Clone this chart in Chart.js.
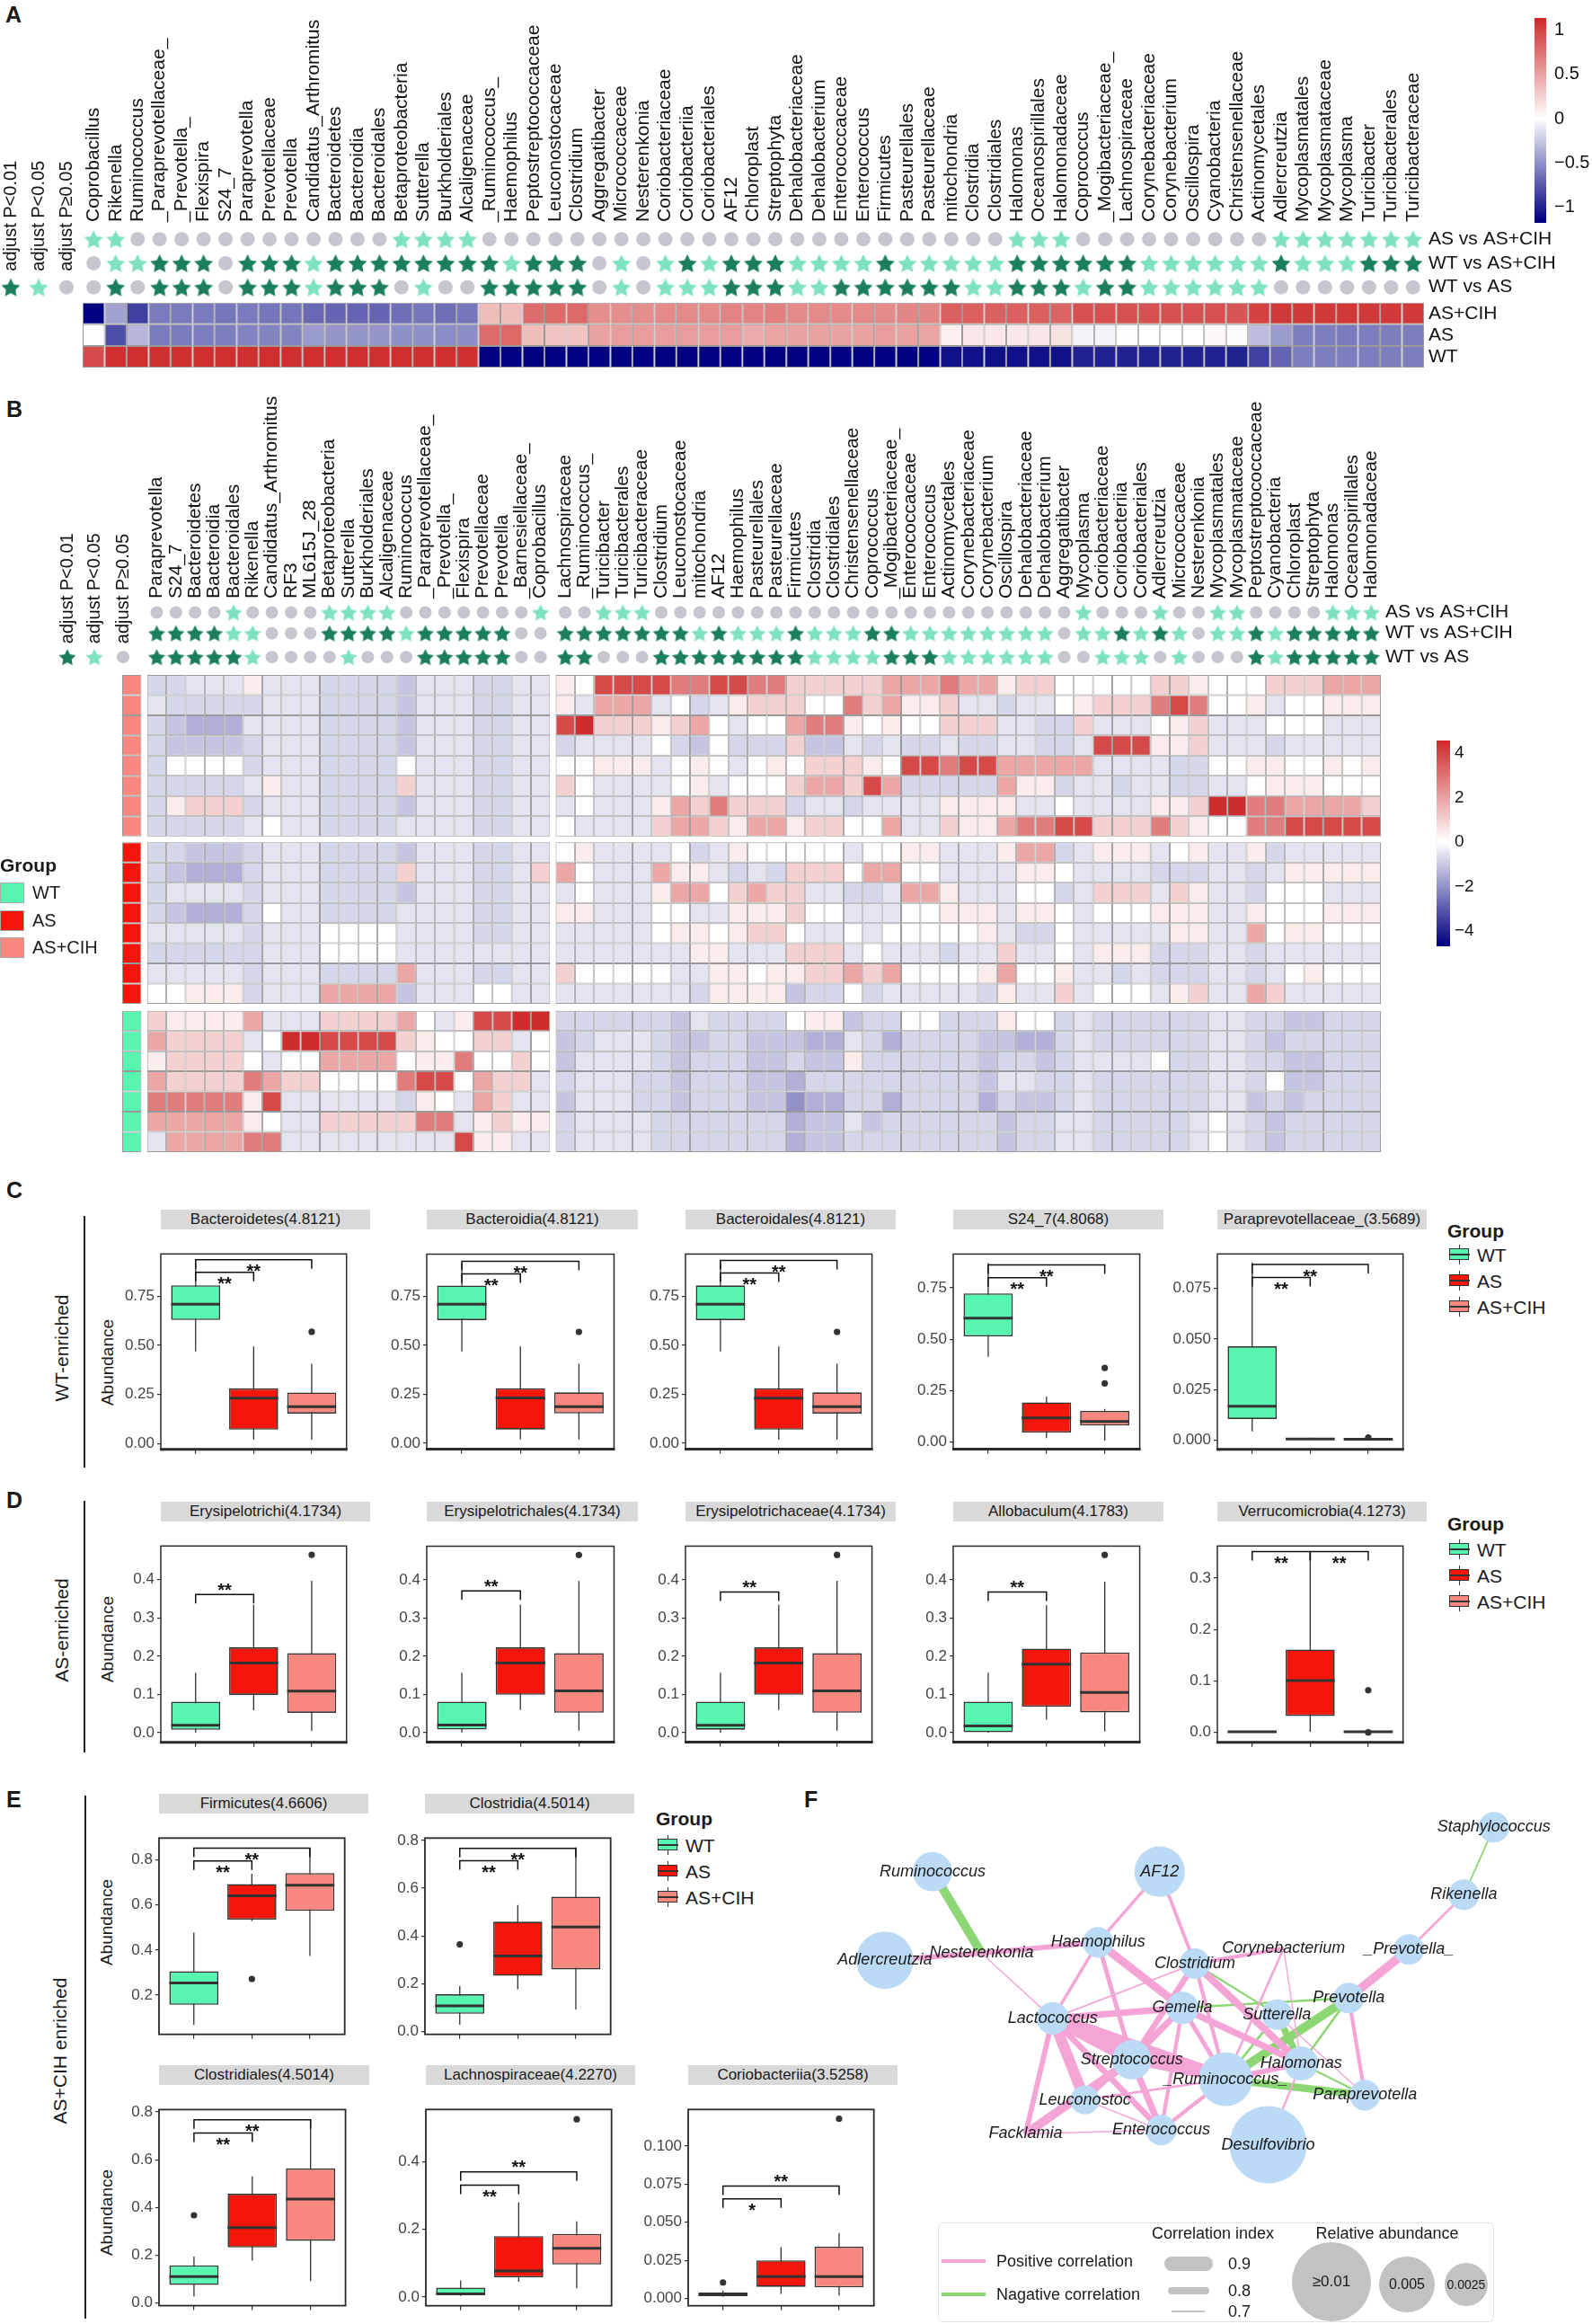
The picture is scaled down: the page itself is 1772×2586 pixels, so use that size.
<!DOCTYPE html>
<html lang="en">
<head>
<meta charset="utf-8">
<title>Differential gut taxa: heatmaps, boxplots and co-occurrence network</title>
<script src="https://cdn.jsdelivr.net/npm/chart.js@4.4.1/dist/chart.umd.min.js"></script>
<style>
  html, body { margin: 0; padding: 0; background: #ffffff; }
  #page { position: relative; width: 1772px; height: 2586px; overflow: hidden; background: #ffffff;
          font-family: 'Liberation Sans', Arial, Helvetica, sans-serif; color: #1a1a1a; }
  #page canvas { position: absolute; }
  .t { position: absolute; white-space: nowrap; line-height: 1; }
  .letter { font-weight: bold; font-size: 25px; }
  .strip { position: absolute; height: 22px; line-height: 22px; background: #d9d9d9; text-align: center;
           font-size: 17px; overflow: hidden; white-space: nowrap; color: #1a1a1a; }
  .rot { position: absolute; white-space: nowrap; line-height: 1; transform: translate(-50%, -50%) rotate(-90deg); }
  .vline { position: absolute; width: 1.5px; background: #222; }
  .key { position: absolute; width: 23px; height: 22px; }
  .key .w { position: absolute; left: 11px; top: 0; width: 1px; height: 22px; background: #333; }
  .key .b { position: absolute; left: 0; top: 4px; width: 20px; height: 11px; border: 1.5px solid #333; }
  .key .m { position: absolute; left: 0; top: 10px; width: 23px; height: 2px; background: #333; }
  .gbox { position: absolute; width: 27px; height: 22px; border: 1px solid #aaa; box-sizing: border-box; }
  .circ { position: absolute; border-radius: 50%; background: #c2c2c2; display: flex; align-items: center;
          justify-content: center; color: #1a1a1a; }
</style>
</head>
<body>
<div id="page"></div>
<script>
// ---------------- panel A: 61 taxa, group-mean z-scores ----------------
const aTaxa = ['Coprobacillus','Rikenella','Ruminococcus','_Paraprevotellaceae_','_Prevotella_','Flexispira','S24_7',
  'Paraprevotella','Prevotellaceae','Prevotella','Candidatus_Arthromitus','Bacteroidetes','Bacteroidia','Bacteroidales',
  'Betaproteobacteria','Sutterella','Burkholderiales','Alcaligenaceae','_Ruminococcus_','Haemophilus',
  'Peptostreptococcaceae','Leuconostocaceae','Clostridium','Aggregatibacter','Micrococcaceae','Nesterenkonia',
  'Coriobacteriaceae','Coriobacteriia','Coriobacteriales','AF12','Chloroplast','Streptophyta','Dehalobacteriaceae',
  'Dehalobacterium','Enterococcaceae','Enterococcus','Firmicutes','Pasteurellales','Pasteurellaceae','mitochondria',
  'Clostridia','Clostridiales','Halomonas','Oceanospirillales','Halomonadaceae','Coprococcus','_Mogibacteriaceae_',
  'Lachnospiraceae','Corynebacteriaceae','Corynebacterium','Oscillospira','Cyanobacteria','Christensenellaceae',
  'Actinomycetales','Adlercreutzia','Mycoplasmatales','Mycoplasmataceae','Mycoplasma','Turicibacter',
  'Turicibacterales','Turicibacteraceae'];
const aHeatCih = [-1.15,-0.42,-0.86,-0.6,-0.6,-0.6,-0.62,-0.6,-0.62,-0.62,-0.68,-0.7,-0.7,-0.7,-0.65,-0.62,-0.65,-0.62,
  0.35,0.35,0.78,0.8,0.8,0.6,0.6,0.6,0.62,0.62,0.62,0.65,0.65,0.68,0.62,0.62,0.62,0.62,0.62,0.64,0.64,
  0.85,0.85,0.85,0.85,0.85,0.82,0.93,0.93,0.93,0.93,0.93,0.93,0.93,0.9,1.0,1.05,1.05,1.05,1.05,1.05,1.05,1.05];
const aHeatAs = [0,-0.8,-0.33,-0.6,-0.6,-0.58,-0.58,-0.56,-0.56,-0.56,-0.45,-0.48,-0.48,-0.48,-0.5,-0.5,-0.52,-0.52,
  0.78,0.8,0.35,0.32,0.32,0.5,0.52,0.52,0.52,0.52,0.52,0.52,0.45,0.48,0.5,0.5,0.5,0.5,0.52,0.5,0.48,
  0.08,0.12,0.12,0.12,0.14,0.16,-0.06,-0.06,0.01,0,0,0,0.03,0.02,-0.3,-0.45,-0.58,-0.58,-0.6,-0.58,-0.58,-0.58];
const aHeatWt = [0.95,1.1,1.1,1.1,1.1,1.1,1.1,1.1,1.1,1.1,1.1,1.1,1.1,1.1,1.1,1.1,1.1,1.1,
  -1.15,-1.15,-1.15,-1.15,-1.15,-1.15,-1.15,-1.15,-1.15,-1.15,-1.15,-1.15,-1.15,-1.15,-1.15,-1.15,-1.15,-1.15,-1.15,-1.15,-1.15,
  -1.08,-1.08,-1.08,-1.08,-1.08,-1.08,-1.0,-1.0,-1.0,-1.0,-1.0,-1.0,-1.0,-1.0,-0.86,-0.7,-0.58,-0.58,-0.58,-0.58,-0.58,-0.58];
// significance codes: 2 = adjust P<0.01, 1 = adjust P<0.05, 0 = adjust P>=0.05
const aSigAsCih = '11 000000 000000 1111 000000 000000 000000 000000 111 000000000 1111111';
const aSigWtCih = '0112220222 1222222221 2220101212 2211112111 1122222211 11112111222';
const aSigWtAs  = '0202220222 1222010022 2220101112 2211222222 1122212211 11110000000';
const aRowNames = ['AS vs AS+CIH', 'WT vs AS+CIH', 'WT vs AS', 'AS+CIH', 'AS', 'WT'];
const aBarTicks = [-1, -0.5, 0, 0.5, 1];

// ---------------- panel B: 64 taxa x 23 samples ----------------
const bTaxaLeft = ['Paraprevotella','S24_7','Bacteroidetes','Bacteroidia','Bacteroidales','Rikenella',
  'Candidatus_Arthromitus','RF3','ML615J_28','Betaproteobacteria','Sutterella','Burkholderiales','Alcaligenaceae',
  'Ruminococcus','_Paraprevotellaceae_','_Prevotella_','Flexispira','Prevotellaceae','Prevotella',
  '_Barnesiellaceae_','Coprobacillus'];
const bTaxaRight = ['Lachnospiraceae','_Ruminococcus_','Turicibacter','Turicibacterales','Turicibacteraceae',
  'Clostridium','Leuconostocaceae','mitochondria','AF12','Haemophilus','Pasteurellales','Pasteurellaceae','Firmicutes',
  'Clostridia','Clostridiales','Christensenellaceae','Coprococcus','_Mogibacteriaceae_','Enterococcaceae',
  'Enterococcus','Actinomycetales','Corynebacteriaceae','Corynebacterium','Oscillospira','Dehalobacteriaceae',
  'Dehalobacterium','Aggregatibacter','Mycoplasma','Coriobacteriaceae','Coriobacteriia','Coriobacteriales',
  'Adlercreutzia','Micrococcaceae','Nesterenkonia','Mycoplasmatales','Mycoplasmataceae','Peptostreptococcaceae',
  'Cyanobacteria','Chloroplast','Streptophyta','Halomonas','Oceanospirillales','Halomonadaceae'];
const bSigAsCih = '0000 1 0000 1111 0000000 1 | 00 111 00000 00000 00000 00000 00 1 000 1 00 11 0000 111';
const bSigWtCih = '2222 11 000 2222 1 22222 00 | 2222222 1 2 111 2 111 22 11111111 0 11 2 1 2 1 0 11 2 1 22222';
const bSigWtAs  = '22222 1 0000 1 000 22222 00 | 22 000 22222222 1111 222 111111 00 111 0 1 000 2 1 22222';
const heatLevels = { O: -2.0, N: -1.45, M: -1.05, L: -0.75, K: -0.5, '0': 0, a: 0.4, b: 1.0, c: 1.9, d: 2.8, e: 3.9, f: 4.5 };
const bSampleGroups = ['AS+CIH','AS+CIH','AS+CIH','AS+CIH','AS+CIH','AS+CIH','AS+CIH','AS+CIH',
  'AS','AS','AS','AS','AS','AS','AS','AS','WT','WT','WT','WT','WT','WT','WT'];
const bHeatLeft = [
  'LLKKKaKKKLLLLMKKKLLKK','KLLLLLKKKLLLLMKKKLLKK','LMNNNKKKKLLLLMKKKLLKK','LMMMMLKKKLLLLMKKKLLKK',
  'L0000LKKKLLLL0KKKLLKK','LLLLLKaKKLLLLbKKKLLKK','LabbbLKKKLLLLMKKKLLKK','LLLLLK0KKLLLLKKKKLLKK',
  'LLMMMLKKKLLLLMKKKLLKK','LMNNNLKKKLLLLbKKKLLKb','LKKKKLKKKLLLLMKKKLLKK','LMNNNL0KKLLLLKKKKLLKK',
  'KKKKKLKKK0000KKKKLLKK','LLLLLLKKK0000KKKKKKKK','KKKKKLKKKLLLLcKKKLLKK','00aaaLKKKccccMKKK00KK',
  'baaaacKKKbbbbc0Kaeeff','cbbbbK0ffeeeeba00bbK0','abbbb0K00cccc0aad00b0','cbbbbdcbb0000dee0cbbK',
  'dddddaeKKKKKKLa0KcbKK','ccccca0KKbbbbbddKabaa','KccccddKKKKKKKKKeaaKK'];
const bHeatRight = [
  'a0eeeeddeeddbbbbbcccdcca bb00000bba000bbbccc',
  'aKcccK0LKabbb00dbcaabKKL KK0abbbded00aK00aaa',
  'efbbbabc0K00cdda0a00bbbK KLLbKKK0abKKK000KKK',
  'LKKKK0LM0LLLbMMKLKLLKLLK KLLKeeeaabKKKLKKKKK',
  '00aaaK0a0K0a0bbba0eedeec ccccKKKKLL00aa00a0a',
  'b0KKKK0aK000bccbecLLLLLc aaLKKLKKLLKK0aaa000',
  'K0KKKacbdbbbLKKLKKKKaaaa KK0KKKKaabffddccccb',
  '0KKKKbccbaccabb00cKKbaac ddeebbbdba00ddeeeee',
  '0aKKKK0LKa00000K00aaKKKa ccLKaaaK0aKKaLKKKKK',
  'c0KKKcaaKLKLbbb0cc00KKKK aa0KKKKLLLKKLKaaaaa',
  'K0KKKacc0bcbbKKLLKccaKKK 00LKbbbKbaKKL000KKK',
  'aaKKK00KKaaab00KKK00aaaK aa0K000aaaKKa000aaa',
  'KKKKK0aa0abb0KK0K00000aK LL0KKKKKaaKKc0aa000',
  'KKKKKKKaaKKKbbbK0KKKLKKb KK0KaaaLLLKKLKKKKKK',
  'b00000KKaa0aabbcbc0000ac 00aKKLKLLLKKLK0a000',
  'KKKKKKKLaaaaMLL0LKKKKKLa KKbK000KabKKcbKKKKK',
  'LLLLLLMKLLLL0aaMLL00LLLa 00LKLLLLLLKKLLMMLLL',
  'MLKKKLMMLLMMMNNKLNLLLLMM NNLKLLLLLLKKLMLLLLL',
  'MKKKKLMLLLMMLMMaLLLLLLML LMLKKKK0LLKKLLMMLLL',
  'LKKKLLMLLLMMNLLLLLLLLLMK KLLKLLLLLLKKL0MMLLL',
  'MKKKLLMLLLMMONNLLNLLLLNL MMLKLLLLLLKKMLMLLLL',
  'LKKKKLLLLLLLNMMKMLLLLLLM LLKKLLLLLK0KLMLLLLL',
  'LKKKKLLLLLLLNMMLLLLLLLLM LLKKLLLLLK0KLMLLLLL'];
const bBarTicks = [-4, -2, 0, 2, 4];
const sigLegendLabels = ['adjust P<0.01', 'adjust P<0.05', 'adjust P\u22650.05'];
const sigRowNames = ['AS vs AS+CIH', 'WT vs AS+CIH', 'WT vs AS'];

// ---------------- panels C, D, E: [lower whisker, Q1, median, Q3, upper whisker] per WT, AS, AS+CIH ----------------
const boxGroups = ['WT', 'AS', 'AS+CIH'];
const bacteroidetesBox = [[0.469,0.629,0.710,0.806,0.919],[0.019,0.070,0.231,0.281,0.494],[0.019,0.152,0.187,0.260,0.406]];
const bacteroidetesOut = [[], [], [0.569]];
const bacteroidetesSig = [[0, 2, 0.937, '**', 'below'], [0, 1, 0.872, '**', 'below']];
const bacteroidiaBox = [[0.469,0.629,0.710,0.806,0.919],[0.019,0.070,0.231,0.281,0.494],[0.019,0.152,0.187,0.260,0.406]];
const bacteroidiaOut = [[], [], [0.569]];
const bacteroidiaSig = [[0, 2, 0.929, '**', 'below'], [0, 1, 0.865, '**', 'below']];
const bacteroidalesBox = [[0.469,0.629,0.710,0.806,0.919],[0.019,0.070,0.231,0.281,0.494],[0.019,0.152,0.187,0.260,0.406]];
const bacteroidalesOut = [[], [], [0.569]];
const bacteroidalesSig = [[0, 2, 0.934, '**', 'below'], [0, 1, 0.869, '**', 'below']];
const s247Box = [[0.414,0.514,0.603,0.723,0.871],[0.018,0.045,0.117,0.192,0.221],[0.006,0.079,0.099,0.151,0.160]];
const s247Out = [[], [], [0.360, 0.285]];
const s247Sig = [[0, 2, 0.862, '**', 'below'], [0, 1, 0.800, '**', 'below']];
const paraprevBox = [[0.0043,0.0105,0.0168,0.0464,0.0877],[0.0002,0.0004,0.0006,0.0009,0.0012],[0.0001,0.0003,0.0005,0.0007,0.0009]];
const paraprevOut = [[], [], [0.0013]];
const paraprevSig = [[0, 2, 0.0868, '**', 'below'], [0, 1, 0.0804, '**', 'below']];

const erysipelotrichiBox = [[0.000,0.0078,0.0195,0.081,0.157],[0.059,0.099,0.182,0.223,0.335],[0.005,0.052,0.109,0.208,0.397]];
const erysipelotrichiOut = [[], [], [0.465]];
const erysipelotrichiSig = [[0, 1, 0.361, '**', 'above']];
const erysipelotrichalesBox = [[0.000,0.0078,0.0195,0.081,0.157],[0.059,0.099,0.182,0.223,0.335],[0.005,0.052,0.109,0.208,0.397]];
const erysipelotrichalesOut = [[], [], [0.465]];
const erysipelotrichalesSig = [[0, 1, 0.371, '**', 'above']];
const erysipelotrichaceaeBox = [[0.000,0.0078,0.0195,0.081,0.157],[0.059,0.099,0.182,0.223,0.335],[0.005,0.052,0.109,0.208,0.397]];
const erysipelotrichaceaeOut = [[], [], [0.465]];
const erysipelotrichaceaeSig = [[0, 1, 0.368, '**', 'above']];
const allobaculumBox = [[0.000,0.001,0.0176,0.081,0.157],[0.034,0.068,0.179,0.220,0.333],[0.003,0.053,0.105,0.210,0.395]];
const allobaculumOut = [[], [], [0.465]];
const allobaculumSig = [[0, 1, 0.368, '**', 'above']];
const verrucoBox = [[0.0005,0.001,0.0015,0.002,0.0025],[0.0015,0.032,0.101,0.161,0.343],[0.0005,0.001,0.0015,0.0022,0.003]];
const verrucoOut = [[], [], [0.082, 0.0003]];
const verrucoSig = [[0, 1, 0.351, '**', 'below'], [1, 2, 0.351, '**', 'below']];

const firmicutesBox = [[0.068,0.157,0.254,0.306,0.477],[0.529,0.535,0.641,0.693,0.739],[0.374,0.574,0.688,0.742,0.854]];
const firmicutesOut = [[], [0.272], []];
const firmicutesSig = [[0, 2, 0.852, '**', 'below'], [0, 1, 0.796, '**', 'below']];
const clostridiaBox = [[0.028,0.074,0.107,0.156,0.190],[0.177,0.233,0.316,0.460,0.530],[0.092,0.260,0.438,0.565,0.772]];
const clostridiaOut = [[0.365], [], []];
const clostridiaSig = [[0, 2, 0.767, '**', 'below'], [0, 1, 0.715, '**', 'below']];
const clostridialesBox = [[0.027,0.075,0.110,0.157,0.194],[0.177,0.232,0.315,0.457,0.530],[0.091,0.260,0.435,0.563,0.770]];
const clostridialesOut = [[0.367], [], []];
const clostridialesSig = [[0, 2, 0.767, '**', 'below'], [0, 1, 0.712, '**', 'below']];
const lachnoBox = [[0.003,0.007,0.009,0.028,0.049],[0.045,0.058,0.077,0.180,0.280],[0.026,0.096,0.144,0.187,0.224]];
const lachnoOut = [[], [], [0.526]];
const lachnoSig = [[0, 2, 0.370, '**', 'above'], [0, 1, 0.331, '**', 'below']];
const corioBox = [[0.001,0.0015,0.0025,0.0038,0.005],[0.003,0.0076,0.0143,0.025,0.0336],[0.002,0.0072,0.0143,0.034,0.043]];
const corioOut = [[0.0105], [], [0.118]];
const corioSig = [[0, 2, 0.0738, '**', 'above'], [0, 1, 0.0653, '*', 'below']];

const ticksQuarter = [0, 0.25, 0.5, 0.75];
const ticksSmall = [0, 0.025, 0.05, 0.075];
const ticksTenth4 = [0, 0.1, 0.2, 0.3, 0.4];
const ticksTenth3 = [0, 0.1, 0.2, 0.3];
const ticksFirm = [0.2, 0.4, 0.6, 0.8];
const ticksFifth = [0, 0.2, 0.4, 0.6, 0.8];
const ticksLachno = [0, 0.2, 0.4];
const ticksCorio = [0, 0.025, 0.05, 0.075, 0.1];

// ---------------- panel F: co-occurrence network (layout coordinates 0-100) ----------------
const netNodes = ['Staphylococcus','Rikenella','_Prevotella_','Prevotella','Ruminococcus','AF12','Adlercreutzia',
  'Nesterenkonia','Haemophilus','Clostridium','Corynebacterium','Gemella','Sutterella','Lactococcus','Streptococcus',
  'Halomonas','_Ruminococcus_','Paraprevotella','Leuconostoc','Enterococcus','Facklamia','Desulfovibrio'];
const netX = [91.9, 87.8, 80.3, 72.1, 15.3, 46.3, 8.8, 22.0, 37.9, 51.1, 63.2, 49.4, 62.3, 31.7, 42.5, 65.6, 55.3, 74.3, 36.1, 46.5, 28.0, 61.1];
const netY = [2.9, 17.2, 28.8, 39.1, 12.3, 12.3, 31.1, 29.6, 27.3, 31.8, 28.6, 41.2, 42.6, 43.4, 52.2, 53.0, 56.3, 59.7, 60.7, 67.1, 67.9, 70.2];
const netAbund = [0.00063, 0.00063, 0.00063, 0.00063, 0.0015, 0.0031, 0.0044, 0, 0.00063, 0.00063, 0, 0.00077, 0.00063,
  0.00077, 0.0015, 0.00093, 0.0037, 0.00063, 0.0005, 0.00063, 0, 0.0095];
const netPosEdges = [
  ['Adlercreutzia','Nesterenkonia',0.76], ['Nesterenkonia','Haemophilus',0.76], ['Nesterenkonia','Lactococcus',0.705],
  ['Haemophilus','AF12',0.73], ['AF12','Clostridium',0.735], ['Haemophilus','Lactococcus',0.73],
  ['Haemophilus','Gemella',0.80], ['Gemella','Halomonas',0.78], ['Haemophilus','Streptococcus',0.75],
  ['Clostridium','Lactococcus',0.71], ['Clostridium','Corynebacterium',0.74], ['Clostridium','Streptococcus',0.77],
  ['Clostridium','Halomonas',0.79], ['Clostridium','_Ruminococcus_',0.74], ['Corynebacterium','_Ruminococcus_',0.72],
  ['Corynebacterium','Halomonas',0.705], ['Lactococcus','Gemella',0.78], ['Lactococcus','_Ruminococcus_',0.88],
  ['Lactococcus','Streptococcus',0.85], ['Lactococcus','Leuconostoc',0.84], ['Lactococcus','Facklamia',0.76],
  ['Lactococcus','Enterococcus',0.77], ['Gemella','Streptococcus',0.77], ['Gemella','Leuconostoc',0.76],
  ['Gemella','Enterococcus',0.74], ['Gemella','_Ruminococcus_',0.75], ['Streptococcus','_Ruminococcus_',0.80],
  ['Streptococcus','Enterococcus',0.78], ['Streptococcus','Facklamia',0.81], ['Leuconostoc','_Ruminococcus_',0.72],
  ['Leuconostoc','Enterococcus',0.705], ['Facklamia','Enterococcus',0.705], ['Enterococcus','_Ruminococcus_',0.74],
  ['_Ruminococcus_','Halomonas',0.76], ['Halomonas','Desulfovibrio',0.715], ['Prevotella','Paraprevotella',0.74],
  ['Prevotella','_Prevotella_',0.81], ['_Prevotella_','Rikenella',0.72], ['Sutterella','Paraprevotella',0.705]];
const netNegEdges = [
  ['Ruminococcus','Nesterenkonia',0.81], ['Staphylococcus','Rikenella',0.71], ['Clostridium','Sutterella',0.715],
  ['Gemella','Prevotella',0.72], ['Sutterella','Halomonas',0.78], ['Sutterella','_Ruminococcus_',0.72],
  ['Prevotella','_Ruminococcus_',0.81], ['Prevotella','Halomonas',0.72], ['_Ruminococcus_','Paraprevotella',0.79],
  ['Halomonas','Paraprevotella',0.715]];

// ================= drawing =================
const FONT = "'Liberation Sans', Arial, Helvetica, sans-serif";
Chart.defaults.font.family = FONT;
Chart.defaults.color = '#1a1a1a';
Chart.defaults.animation = false;
Chart.defaults.responsive = false;
Chart.defaults.maintainAspectRatio = false;
Chart.defaults.devicePixelRatio = 1;
Chart.defaults.events = [];
Chart.defaults.plugins.legend.display = false;
Chart.defaults.plugins.tooltip.enabled = false;

const GROUP_COLORS = { 'WT': '#57F5B0', 'AS': '#F5160B', 'AS+CIH': '#F8877F' };
const SIG_GREY = '#c6c6ce';
const page = document.getElementById('page');

function canvasAt(x, y, w, h) {
  const c = document.createElement('canvas');
  c.width = w; c.height = h;
  c.style.left = x + 'px'; c.style.top = y + 'px';
  c.style.width = w + 'px'; c.style.height = h + 'px';
  page.appendChild(c);
  return c;
}
function put(cls, text, x, y, css) {
  const d = document.createElement('div');
  d.className = cls;
  d.textContent = text;
  d.style.left = x + 'px';
  d.style.top = y + 'px';
  if (css) Object.assign(d.style, css);
  page.appendChild(d);
  return d;
}
function box(x, y, w, h, css) {
  const d = document.createElement('div');
  Object.assign(d.style, { position: 'absolute', left: x + 'px', top: y + 'px', width: w + 'px', height: h + 'px' }, css || {});
  page.appendChild(d);
  return d;
}

const NAVY = [0, 0, 128], WHITE = [255, 255, 255], FIREBRICK = [205, 38, 38];
function heatColor(v, lim) {
  const t = Math.max(-1, Math.min(1, v / lim));
  const end = t < 0 ? NAVY : FIREBRICK, s = Math.abs(t);
  const c = WHITE.map((w, i) => Math.round(w + (end[i] - w) * s));
  return `rgb(${c[0]},${c[1]},${c[2]})`;
}
const digitsOnly = s => s.replace(/[^0-9]/g, '').split('');
const codesOnly = s => s.replace(/\s+/g, '').split('');

function starImage(R, color) {
  const s = Math.ceil(2 * R + 2);
  const c = document.createElement('canvas');
  c.width = s; c.height = s;
  const g = c.getContext('2d');
  g.fillStyle = color;
  g.beginPath();
  for (let k = 0; k < 10; k++) {
    const rr = k % 2 === 0 ? R : R * 0.5;
    const a = -Math.PI / 2 + k * Math.PI / 5;
    const px = s / 2 + rr * Math.cos(a), py = s / 2 + 0.1 * R + rr * Math.sin(a);
    if (k === 0) g.moveTo(px, py); else g.lineTo(px, py);
  }
  g.closePath();
  g.fill();
  return c;
}
const symA = { dark: starImage(11, '#1b7f5c'), light: starImage(11, '#7fe2bf'), starR: 11, dotR: 8 };
const symB = { dark: starImage(10, '#1b7f5c'), light: starImage(10, '#7fe2bf'), starR: 10, dotR: 7 };

function sigDataset(codes, xs, y, sym) {
  const c = digitsOnly(codes);
  return {
    type: 'line', showLine: false, clip: false, order: 0,
    data: xs.map(x => ({ x, y })),
    pointStyle: c.map(k => k === '2' ? sym.dark : k === '1' ? sym.light : 'circle'),
    pointRadius: c.map(k => k === '0' ? sym.dotR : sym.starR),
    pointBackgroundColor: SIG_GREY, pointBorderWidth: 0, pointBorderColor: 'rgba(0,0,0,0)'
  };
}
function heatDataset(cells, thickness) {
  return {
    type: 'bar', order: 1, grouped: false, clip: false,
    data: cells.map(c => ({ x: c.x, y: [c.y0, c.y1] })),
    backgroundColor: cells.map(c => c.color),
    borderColor: '#9a9a9a', borderWidth: 1, borderSkipped: false, inflateAmount: 0,
    barThickness: thickness
  };
}
function colLabelPlugin(labels, xs, size, gap) {
  return { id: 'colLabels', afterDraw(chart) {
    const { ctx, chartArea } = chart, sx = chart.scales.x;
    ctx.save();
    ctx.font = `${size}px ${FONT}`;
    ctx.fillStyle = '#111';
    ctx.textAlign = 'left';
    ctx.textBaseline = 'middle';
    labels.forEach((lab, i) => {
      ctx.save();
      ctx.translate(sx.getPixelForValue(xs[i]), chartArea.top - gap);
      ctx.rotate(-Math.PI / 2);
      ctx.fillText(lab, 0, 0);
      ctx.restore();
    });
    ctx.restore();
  }};
}
function sigLegendPlugin(sym, xs, rowY, textGap) {
  return { id: 'sigLegend', afterDraw(chart) {
    const ctx = chart.ctx, py = chart.scales.y.getPixelForValue(rowY);
    ctx.save();
    [sym.dark, sym.light, null].forEach((img, i) => {
      if (img) ctx.drawImage(img, xs[i] - img.width / 2, py - img.height / 2);
      else { ctx.fillStyle = SIG_GREY; ctx.beginPath(); ctx.arc(xs[i], py, sym.dotR, 0, Math.PI * 2); ctx.fill(); }
      ctx.save();
      ctx.translate(xs[i], py - textGap);
      ctx.rotate(-Math.PI / 2);
      ctx.font = `20px ${FONT}`;
      ctx.fillStyle = '#111';
      ctx.textAlign = 'left';
      ctx.textBaseline = 'middle';
      ctx.fillText(sigLegendLabels[i], 0, 0);
      ctx.restore();
    });
    ctx.restore();
  }};
}
function heatmapChart(spec) {
  const cv = canvasAt(spec.left, spec.top, spec.width, spec.height);
  const areaW = spec.width - spec.pad.left - spec.pad.right - spec.axisW;
  const cellPx = areaW / (spec.xMax - spec.xMin);
  return new Chart(cv, {
    type: 'bar',
    data: { datasets: [...spec.sig, heatDataset(spec.cells, cellPx)] },
    options: {
      layout: { padding: spec.pad },
      scales: {
        x: { type: 'linear', display: false, min: spec.xMin, max: spec.xMax, offset: false, grid: { offset: false } },
        y: { type: 'linear', position: 'right', reverse: true, min: 0, max: spec.yMax,
             afterBuildTicks: s => { s.ticks = spec.rowTicks.map(v => ({ value: v })); },
             afterFit: s => { s.width = spec.axisW; s.paddingTop = 0; s.paddingBottom = 0; },
             ticks: { autoSkip: false, padding: 5, font: { size: 21 }, color: '#111', callback: (v, i) => spec.rowNames[i] },
             grid: { display: false, drawTicks: false }, border: { display: false } }
      }
    },
    plugins: [colLabelPlugin(spec.labels, spec.xs, 21, spec.labelGap), sigLegendPlugin(spec.sym, spec.legendX, spec.sigY[2], spec.legendGap)]
  });
}
function colorbarChart(spec) {
  const cv = canvasAt(spec.left, spec.top, spec.width, spec.height);
  return new Chart(cv, {
    type: 'bar',
    data: { labels: [''], datasets: [{
      data: [[spec.min, spec.max]], borderWidth: 0, barPercentage: 1, categoryPercentage: 1, inflateAmount: 0,
      backgroundColor: ctx => {
        const ys = ctx.chart.scales.y;
        if (!ys || !ctx.chart.chartArea) return '#ffffff';
        const g = ctx.chart.ctx.createLinearGradient(0, ys.getPixelForValue(spec.lim), 0, ys.getPixelForValue(-spec.lim));
        g.addColorStop(0, heatColor(spec.lim, spec.lim));
        g.addColorStop(0.5, '#ffffff');
        g.addColorStop(1, heatColor(-spec.lim, spec.lim));
        return g;
      }
    }] },
    options: {
      layout: { padding: spec.pad },
      scales: {
        x: { display: false },
        y: { position: 'right', min: spec.min, max: spec.max,
             afterBuildTicks: s => { s.ticks = spec.ticks.map(v => ({ value: v })); },
             afterFit: s => { s.width = spec.axisW; s.paddingTop = 0; s.paddingBottom = 0; },
             ticks: { autoSkip: false, padding: spec.tickPad, font: { size: spec.font }, color: '#111',
                      callback: v => (v < 0 ? '\u2212' : '') + Math.abs(v) },
             grid: { display: false, drawTicks: false }, border: { display: false } }
      }
    }
  });
}

// ---------- panel A ----------
put('t letter', 'A', 6, 4);
const A_LIM = 1.15, aSigY = [0.59, 1.70, 2.81], aHeatTop = 3.52;
const aXs = aTaxa.map((_, i) => i);
const aCells = [];
[aHeatCih, aHeatAs, aHeatWt].forEach((row, r) => row.forEach((v, i) =>
  aCells.push({ x: i, y0: aHeatTop + r, y1: aHeatTop + r + 1, color: heatColor(v, A_LIM) })));
heatmapChart({
  left: 0, top: 0, width: 1772, height: 420, pad: { left: 92, right: 0, top: 252, bottom: 3 }, axisW: 187,
  xMin: -0.5, xMax: 60.5, yMax: 6.52, xs: aXs, labels: aTaxa, labelGap: 5,
  sig: [sigDataset(aSigAsCih, aXs, aSigY[0], symA), sigDataset(aSigWtCih, aXs, aSigY[1], symA), sigDataset(aSigWtAs, aXs, aSigY[2], symA)],
  cells: aCells, rowTicks: [...aSigY, aHeatTop + 0.5, aHeatTop + 1.5, aHeatTop + 2.5], rowNames: aRowNames,
  sym: symA, sigY: aSigY, legendX: [12, 43, 74], legendGap: 18
});
colorbarChart({ left: 1690, top: 0, width: 82, height: 252, pad: { left: 18, right: 0, top: 20, bottom: 4 }, axisW: 51,
  min: -1.175, max: 1.135, lim: A_LIM, ticks: aBarTicks, tickPad: 9, font: 20 });

// ---------- panel B ----------
put('t letter', 'B', 7, 443);
const B_LIM = 4.65, bSigY = [0.6, 1.63, 2.81], bGroupStart = { 'AS+CIH': 3.69, 'AS': 11.98, 'WT': 20.32 };
const bXs = [...bTaxaLeft.map((_, i) => 1.3 + i), ...bTaxaRight.map((_, j) => 22.59 + j)];
const bCells = [];
bSampleGroups.forEach((g, r) => {
  const y0 = bGroupStart[g] + (r - bSampleGroups.indexOf(g));
  bCells.push({ x: 0, y0, y1: y0 + 1, color: GROUP_COLORS[g] });
  const codes = [...codesOnly(bHeatLeft[r]), ...codesOnly(bHeatRight[r])];
  bXs.forEach((x, i) => bCells.push({ x, y0, y1: y0 + 1, color: heatColor(heatLevels[codes[i]] || 0, B_LIM) }));
});
heatmapChart({
  left: 0, top: 420, width: 1772, height: 872, pad: { left: 136, right: 0, top: 248, bottom: 3.8 }, axisW: 235,
  xMin: -0.5, xMax: 65.09, yMax: 27.32, xs: bXs, labels: [...bTaxaLeft, ...bTaxaRight], labelGap: 2,
  sig: [sigDataset(bSigAsCih, bXs, bSigY[0], symB), sigDataset(bSigWtCih, bXs, bSigY[1], symB), sigDataset(bSigWtAs, bXs, bSigY[2], symB)],
  cells: bCells, rowTicks: bSigY, rowNames: sigRowNames,
  sym: symB, sigY: bSigY, legendX: [75, 105, 137], legendGap: 15
});
colorbarChart({ left: 1580, top: 810, width: 80, height: 260, pad: { left: 19, right: 0, top: 14, bottom: 17 }, axisW: 46,
  min: -4.69, max: 4.57, lim: B_LIM, ticks: bBarTicks, tickPad: 5, font: 19 });
put('t', 'Group', 0, 952, { fontWeight: 'bold', fontSize: '21px' });
boxGroups.forEach((g, i) => {
  const y = [982, 1013, 1043][i];
  box(0, y, 27, 23, { background: GROUP_COLORS[g], border: '1px solid #aaa', boxSizing: 'border-box' });
  put('t', g, 36, y + 1, { fontSize: '20px' });
});

// ---------- boxplot panels ----------
function bracketPlugin(items) {
  return { id: 'brackets', afterDatasetsDraw(chart) {
    const { ctx, scales: { x, y } } = chart;
    ctx.save();
    ctx.strokeStyle = '#111'; ctx.fillStyle = '#111'; ctx.lineWidth = 1.5;
    ctx.font = `bold 20px ${FONT}`; ctx.textAlign = 'center'; ctx.textBaseline = 'alphabetic';
    items.forEach(([a, b, v, label, side]) => {
      const x1 = x.getPixelForValue(a), x2 = x.getPixelForValue(b), py = y.getPixelForValue(v);
      ctx.beginPath();
      ctx.moveTo(x1, py + 10); ctx.lineTo(x1, py); ctx.lineTo(x2, py); ctx.lineTo(x2, py + 10);
      ctx.stroke();
      ctx.fillText(label, (x1 + x2) / 2, side === 'above' ? py + 1.5 : py + 19.5);
    });
    ctx.restore();
  }};
}
function framePlugin(lw, bottomLw) {
  return { id: 'frame', afterDraw(chart) {
    const { ctx, chartArea: a } = chart;
    ctx.save();
    ctx.strokeStyle = '#2b2b2b'; ctx.lineWidth = lw;
    ctx.strokeRect(a.left, a.top, a.width, a.height);
    if (bottomLw) {
      ctx.lineWidth = bottomLw;
      ctx.beginPath(); ctx.moveTo(a.left - 1, a.bottom); ctx.lineTo(a.right + 1, a.bottom); ctx.stroke();
    }
    ctx.restore();
  }};
}
function boxPanel(p) {
  const [l, t, r, b] = p.rect;
  const bw = r - l, bh = b - t, axisW = 62;
  const cv = canvasAt(l - axisW, t - 3, axisW + bw + 4, bh + 3 + 10 + 3);
  const boxPx = 0.75 * bw / 3.2;
  put('strip', p.title, l, t - 22, { width: bw + 'px' });
  const datasets = p.box.map((s, i) => ({
    type: 'line', order: 3, clip: false, data: [{ x: i, y: s[0] }, { x: i, y: s[4] }],
    borderColor: '#333', borderWidth: 1.3, pointRadius: 0
  }));
  datasets.push({
    type: 'bar', order: 2, grouped: false, clip: false,
    data: p.box.map((s, i) => ({ x: i, y: [s[1], s[3]] })),
    backgroundColor: boxGroups.map(g => GROUP_COLORS[g]),
    borderColor: '#333', borderWidth: 1.6, borderSkipped: false, inflateAmount: 0, barThickness: boxPx
  });
  datasets.push({
    type: 'line', order: 1, showLine: false, clip: false,
    data: p.box.map((s, i) => ({ x: i, y: s[2] })),
    pointStyle: 'line', pointRadius: boxPx / 2, pointBorderWidth: 3, pointBorderColor: '#333'
  });
  const outs = [];
  p.out.forEach((vals, i) => vals.forEach(v => outs.push({ x: i, y: v })));
  datasets.push({
    type: 'line', order: 0, showLine: false, clip: false, data: outs,
    pointStyle: 'circle', pointRadius: 3.6, pointBackgroundColor: '#333', pointBorderWidth: 0
  });
  new Chart(cv, {
    type: 'bar',
    data: { datasets },
    options: {
      layout: { padding: { left: 0, right: 4, top: 3, bottom: 3 } },
      scales: {
        x: { type: 'linear', min: -0.6, max: 2.6, offset: false,
             afterBuildTicks: s => { s.ticks = [0, 1, 2].map(v => ({ value: v })); },
             afterFit: s => { s.height = 10; s.paddingLeft = 0; s.paddingRight = 0; },
             ticks: { display: false },
             grid: { display: true, offset: false, drawOnChartArea: false, drawTicks: true, tickLength: 5, color: '#333', lineWidth: 1.2 },
             border: { display: false } },
        y: { type: 'linear', min: p.yMin, max: p.yMax,
             afterBuildTicks: s => { s.ticks = p.ticks.map(v => ({ value: v })); },
             afterFit: s => { s.width = axisW; s.paddingTop = 0; s.paddingBottom = 0; },
             ticks: { autoSkip: false, padding: 3, font: { size: 17 }, color: '#444', callback: v => v.toFixed(p.digits) },
             grid: { display: true, drawOnChartArea: false, drawTicks: true, tickLength: 4, color: '#333', lineWidth: 1.2 },
             border: { display: false } }
      }
    },
    plugins: [framePlugin(p.frame, p.frameBottom), bracketPlugin(p.sig)]
  });
}
function groupLegend(x, titleY, keyYs, labelX) {
  put('t', 'Group', x - 2, titleY, { fontWeight: 'bold', fontSize: '21px' });
  boxGroups.forEach((g, i) => {
    const k = box(x, keyYs[i] - 11, 23, 22, {});
    k.className = 'key';
    k.innerHTML = '<div class="w"></div><div class="b"></div><div class="m"></div>';
    k.querySelector('.b').style.background = GROUP_COLORS[g];
    put('t', g, labelX, keyYs[i] - 10.3, { fontSize: '21px' });
  });
}

// ---------- panel C ----------
put('t letter', 'C', 7, 1312);
box(93, 1353, 1.5, 280, { background: '#222' });
put('rot', 'WT-enriched', 68, 1500, { fontSize: '21px' });
put('rot', 'Abundance', 119, 1516, { fontSize: '19px' });
const cY = [1368, 1630];
[
  ['Bacteroidetes(4.8121)', bacteroidetesBox, bacteroidetesOut, bacteroidetesSig, 179, 412, -0.03, 0.966, ticksQuarter, 2],
  ['Bacteroidia(4.8121)', bacteroidiaBox, bacteroidiaOut, bacteroidiaSig, 475, 710, -0.03, 0.966, ticksQuarter, 2],
  ['Bacteroidales(4.8121)', bacteroidalesBox, bacteroidalesOut, bacteroidalesSig, 763, 997, -0.03, 0.966, ticksQuarter, 2],
  ['S24_7(4.8068)', s247Box, s247Out, s247Sig, 1061, 1295, -0.036, 0.915, ticksQuarter, 2],
  ['Paraprevotellaceae_(3.5689)', paraprevBox, paraprevOut, paraprevSig, 1355, 1588, -0.0045, 0.092, ticksSmall, 3]
].forEach(([title, bx, out, sig, l, r, yMin, yMax, ticks, digits]) =>
  boxPanel({ title, box: bx, out, sig, rect: [l, cY[0], r, cY[1]], yMin, yMax, ticks, digits, frame: 1.5, frameBottom: 3 }));
groupLegend(1613, 1359, [1396, 1425, 1454], 1644);

// ---------- panel D ----------
put('t letter', 'D', 7, 1657);
box(93, 1670, 1.5, 280, { background: '#222' });
put('rot', 'AS-enriched', 68, 1814, { fontSize: '21px' });
put('rot', 'Abundance', 119, 1824, { fontSize: '19px' });
const dY = [1693, 1956];
[
  ['Erysipelotrichi(4.1734)', erysipelotrichiBox, erysipelotrichiOut, erysipelotrichiSig, 179, 412, -0.025, 0.488, ticksTenth4],
  ['Erysipelotrichales(4.1734)', erysipelotrichalesBox, erysipelotrichalesOut, erysipelotrichalesSig, 475, 710, -0.025, 0.488, ticksTenth4],
  ['Erysipelotrichaceae(4.1734)', erysipelotrichaceaeBox, erysipelotrichaceaeOut, erysipelotrichaceaeSig, 763, 997, -0.025, 0.488, ticksTenth4],
  ['Allobaculum(4.1783)', allobaculumBox, allobaculumOut, allobaculumSig, 1061, 1295, -0.025, 0.488, ticksTenth4],
  ['Verrucomicrobia(4.1273)', verrucoBox, verrucoOut, verrucoSig, 1355, 1588, -0.019, 0.362, ticksTenth3]
].forEach(([title, bx, out, sig, l, r, yMin, yMax, ticks]) =>
  boxPanel({ title, box: bx, out, sig, rect: [l, dY[0], r, dY[1]], yMin, yMax, ticks, digits: 1, frame: 1.5, frameBottom: 3 }));
groupLegend(1613, 1685, [1724, 1753, 1782], 1644);

// ---------- panel E ----------
put('t letter', 'E', 7, 1990);
box(94, 1998, 1.5, 582, { background: '#222' });
put('rot', 'AS+CIH enriched', 66, 2282, { fontSize: '21px' });
put('rot', 'Abundance', 118, 2139, { fontSize: '19px' });
put('rot', 'Abundance', 118, 2462, { fontSize: '19px' });
[
  ['Firmicutes(4.6606)', firmicutesBox, firmicutesOut, firmicutesSig, [177, 2018, 410, 2281], 0.026, 0.897, ticksFirm, 1],
  ['Clostridia(4.5014)', clostridiaBox, clostridiaOut, clostridiaSig, [473, 2018, 706, 2281], -0.012, 0.81, ticksFifth, 1],
  ['Clostridiales(4.5014)', clostridialesBox, clostridialesOut, clostridialesSig, [177, 2320, 411, 2583], -0.012, 0.81, ticksFifth, 1],
  ['Lachnospiraceae(4.2270)', lachnoBox, lachnoOut, lachnoSig, [474, 2320, 707, 2583], -0.026, 0.555, ticksLachno, 1],
  ['Coriobacteriia(3.5258)', corioBox, corioOut, corioSig, [766, 2320, 999, 2583], -0.0048, 0.124, ticksCorio, 3]
].forEach(([title, bx, out, sig, rect, yMin, yMax, ticks, digits]) =>
  boxPanel({ title, box: bx, out, sig, rect, yMin, yMax, ticks, digits, frame: 1.8, frameBottom: 0 }));
groupLegend(732, 2013, [2053, 2082, 2111], 763);

// ---------- panel F ----------
put('t letter', 'F', 895, 1990);
const POS_COLOR = '#F4A5D6', NEG_COLOR = '#8CD673', NODE_COLOR = '#BBDAF5';
const nodeRadius = a => a > 0 ? 8 + 360 * Math.sqrt(a) : 0;
const edgeWidth = r => Math.max(1, 1 + (r - 0.7) * 80);
function edgeDataset([a, b, r], color) {
  const i = netNodes.indexOf(a), j = netNodes.indexOf(b);
  return { type: 'line', order: 2, clip: false, borderColor: color, borderWidth: edgeWidth(r), pointRadius: 0,
           data: [{ x: netX[i], y: netY[i] }, { x: netX[j], y: netY[j] }] };
}
const nodeLabelPlugin = { id: 'nodeLabels', afterDatasetsDraw(chart) {
  const { ctx, scales: { x, y } } = chart;
  ctx.save();
  ctx.font = `italic 18px ${FONT}`; ctx.fillStyle = '#1a1a1a'; ctx.textAlign = 'center'; ctx.textBaseline = 'middle';
  netNodes.forEach((n, i) => ctx.fillText(n, x.getPixelForValue(netX[i]), y.getPixelForValue(netY[i])));
  ctx.restore();
}};
new Chart(canvasAt(870, 1975, 902, 611), {
  type: 'scatter',
  data: { datasets: [
    ...netPosEdges.map(e => edgeDataset(e, POS_COLOR)),
    ...netNegEdges.map(e => edgeDataset(e, NEG_COLOR)),
    { type: 'scatter', order: 1, clip: false, data: netNodes.map((n, i) => ({ x: netX[i], y: netY[i] })),
      pointRadius: netAbund.map(nodeRadius), pointBackgroundColor: NODE_COLOR, pointBorderWidth: 0 }
  ] },
  options: {
    layout: { padding: 0 },
    scales: { x: { type: 'linear', display: false, min: 0, max: 100 },
              y: { type: 'linear', display: false, min: 0, max: 100, reverse: true } }
  },
  plugins: [nodeLabelPlugin]
});
// legend of panel F
box(1044, 2473, 619, 111, { border: '1.5px dotted #c8c8c8', borderRadius: '6px', boxSizing: 'border-box' });
put('t', 'Correlation index', 1350, 2476, { fontSize: '18px', transform: 'translateX(-50%)' });
put('t', 'Relative abundance', 1544, 2476, { fontSize: '18px', transform: 'translateX(-50%)' });
box(1048, 2514, 49, 4, { background: POS_COLOR });
put('t', 'Positive correlation', 1109, 2507, { fontSize: '18px' });
box(1048, 2551, 49, 4, { background: NEG_COLOR });
put('t', 'Nagative correlation', 1109, 2544, { fontSize: '18px' });
box(1296, 2511, 54, 16, { background: '#c2c2c2', borderRadius: '8px' });
box(1300, 2545, 46, 8, { background: '#c2c2c2', borderRadius: '4px' });
box(1304, 2571, 37, 1.5, { background: '#c2c2c2' });
put('t', '0.9', 1367, 2510, { fontSize: '18px' });
put('t', '0.8', 1367, 2540, { fontSize: '18px' });
put('t', '0.7', 1367, 2563, { fontSize: '18px' });
[['\u22650.01', 1482, 2539, 44, 17], ['0.005', 1566, 2542, 31, 16], ['0.0025', 1632, 2542, 24, 14]].forEach(([txt, cx, cy, r, fs]) => {
  const c = box(cx - r, cy - r, 2 * r, 2 * r, {});
  c.className = 'circ';
  c.style.fontSize = fs + 'px';
  c.textContent = txt;
});
</script>
</body>
</html>
